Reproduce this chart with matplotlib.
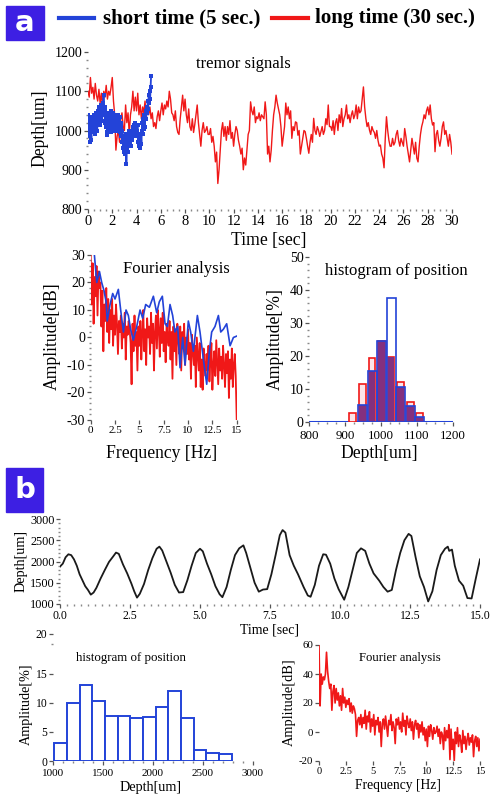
import numpy as np
import matplotlib.pyplot as plt
from matplotlib.ticker import AutoMinorLocator
from matplotlib.patches import Rectangle
from matplotlib.lines import Line2D

plt.rcParams['font.family'] = 'Liberation Serif'
plt.rcParams['axes.unicode_minus'] = False

# ---- panel a: tremor signals (depth in um, sampled every 0.1 s / 0.04 s) ----
long_depth = [
    1100, 1085, 1135, 1095, 1110, 1080, 1120, 1090, 1075, 1105,
    1070, 1095, 1060, 1100, 1085, 1115, 1080, 1100, 1090, 1110,
    1135, 1075, 1040, 950, 985, 1000, 970, 1030, 1045, 1010,
    1000, 1065, 1020, 1045, 990, 1040, 1060, 1100, 1050, 1085,
    1050, 1095, 1040, 1065, 1030, 1060, 1045, 1075, 1035, 1055,
    1040, 1060, 1030, 1045, 1010, 1020, 1005, 1035, 1050, 1025,
    1050, 1070, 1040, 1065, 1055, 1075, 1060, 1100, 1080, 1045,
    1040, 1025, 1050, 1010, 995, 990, 1030, 1060, 1090, 1050,
    1080, 1040, 1020, 1055, 1010, 1000, 1030, 995, 1015, 1040,
    1065, 1020, 990, 960, 1000, 1020, 995, 1000, 1010, 990,
    990, 1005, 970, 985, 960, 920, 945, 865, 900, 950,
    1000, 1020, 985, 1010, 975, 1010, 990, 1025, 980, 995,
    960, 990, 1010, 1000, 975, 960, 940, 955, 900, 930,
    912, 950, 990, 1000, 1073, 1050, 1040, 1060, 1020, 1035,
    1030, 1045, 1025, 1040, 1035, 1030, 1073, 1040, 940, 960,
    920, 950, 1000, 1040, 1060, 1090, 1070, 1055, 1040, 1010,
    960, 985, 1010, 1070, 1040, 1060, 1030, 1050, 980, 1010,
    1000, 1022, 1020, 988, 1000, 940, 960, 980, 1000, 997,
    980, 960, 942, 970, 990, 970, 1031, 1000, 990, 1010,
    1000, 985, 997, 1010, 990, 1000, 1030, 1015, 1065, 1010,
    1010, 1000, 1025, 990, 1020, 1030, 1000, 1040, 1020, 1056,
    1010, 1030, 1040, 1065, 1030, 1040, 1020, 1039, 1050, 1030,
    1040, 1065, 1030, 1060, 1045, 1050, 1080, 1111, 1060, 1031,
    1010, 1020, 1001, 990, 1010, 1000, 995, 980, 1000, 975,
    960, 963, 940, 930, 905, 980, 1035, 1000, 975, 960,
    960, 980, 963, 970, 990, 1000, 975, 960, 980, 970,
    960, 1005, 985, 960, 940, 920, 950, 980, 960, 940,
    970, 930, 920, 960, 990, 1010, 1022, 1040, 1030, 1050,
    1060, 1040, 1065, 1030, 1014, 1020, 946, 990, 1000, 975,
    960, 980, 1010, 1022, 990, 1000, 980, 960, 990, 970,
    940,
]
short_depth = [
    1010, 1040, 985, 1030, 970, 1020, 1000, 975, 1035, 1005,
    1030, 995, 1040, 1010, 1025, 990, 1045, 1015, 1030, 1000,
    1050, 1020, 1060, 1030, 1045, 1015, 1065, 1035, 1055, 1025,
    1070, 1040, 1090, 1045, 1060, 1020, 1050, 1010, 1040, 995,
    988, 1030, 1010, 1045, 1000, 1035, 1015, 1050, 995, 1040,
    1020, 1045, 1000, 1035, 1010, 1040, 1005, 1030, 1000, 1025,
    1010, 1040, 1000, 1030, 1015, 1035, 995, 1020, 985, 1010,
    970, 1000, 955, 985, 945, 975, 960, 940, 990, 915,
    960, 980, 945, 990, 965, 1000, 970, 985, 960, 995,
    975, 1000, 985, 1010, 990, 1015, 995, 1020, 1005, 1010,
    1000, 985, 1015, 970, 990, 960, 985, 955, 975, 990,
    965, 1000, 1020, 990, 1030, 1005, 1040, 1010, 1035, 1050,
    1030, 1060, 1045, 1075, 1055, 1090, 1070, 1100, 1080, 1110,
    1140,
]

# ---- panel a: Fourier analysis (dB) ----
long_fft = [
    30, 12, 27, 5, 22, 15, 26, 8, 24, 18,
    20, 4, 17, -5, 12, 6, 18, 2, 14, -2,
    10, 3, 14, -3, 8, 1, 12, 5, -6, 6,
    2, 8, -4, 5, 0, 9, -8, 4, 1, 6,
    3, -2, -17, 5, -5, 8, -3, 2, -12, 4,
    -3, 6, -8, 2, 10, -5, 3, -10, 7, 0,
    4, -6, 9, -2, 5, -12, 2, 8, -4, 10,
    3, -7, 7, -2, 9, -5, 2, -9, 5, 0,
    -3, 6, -8, 2, -15, 4, -5, 3, -10, 5,
    0, -6, 4, -12, 2, -4, 5, -10, 0, -6,
    3, -8, -2, -15, 1, -5, -10, -3, -18, 0,
    -6, -12, -2, -18, -8, -19, -4, -10, -14, -6,
    -12, -3, -16, -8, -2, -19, -10, -5, -14, -1,
    -9, -17, -4, -12, -7, -15, -3, -10, -18, -6,
    -13, -5, -22, -8, -15, -4, -18, -10, -6, -14,
    -30,
]
short_fft_freq = [0.38, 0.62, 0.9, 1.13, 1.37, 1.58, 1.7, 1.99, 2.26, 2.5,
                  2.84, 3.08, 3.36, 3.63, 3.87, 4.1, 4.38, 4.73, 5.07, 5.34,
                  5.65, 6.03, 6.44, 6.78, 7.05, 7.36, 7.64, 7.88, 8.15, 8.42,
                  8.66, 8.94, 9.18, 9.45, 9.69, 10.03, 10.27, 10.55, 10.96, 11.23,
                  11.58, 11.92, 12.19, 12.43, 12.77, 13.12, 13.36, 13.63, 13.97, 14.32,
                  14.66, 15.0]
short_fft = [30, 20, 24, 20, 17, 13, 6, 12, 16, 14,
             17.5, 10, 2, 10, 8, 3, -1, 4, 10, 7,
             12, 11, 15, 9, 13, 15, 5, 4, 12, 8,
             2, 4, -11, 0, -10, 6, 2, -5, 8, 2,
             -8, -17, -5, 2, 4, 8, 2, 3, 5, -3,
             0, 0.5]

# ---- panel a: histogram of position (%) ----
hist_a_centers = [921, 948, 975, 1001, 1028, 1054, 1081, 1107]
hist_a_long = [2.8, 11.6, 19.4, 24.6, 19.8, 12.0, 6.2, 2.6]
hist_a_short = [0.0, 5.1, 15.6, 24.6, 37.5, 10.6, 4.7, 1.6]

# ---- panel b: slow movement (depth in um) ----
b_time = [0.0, 0.1, 0.2, 0.3, 0.4, 0.5, 0.6, 0.7, 0.8, 0.9, 1.0, 1.1, 1.2, 1.3,
          1.45, 1.6, 1.75, 1.9, 2.0, 2.1, 2.25, 2.4, 2.55, 2.65, 2.75, 2.85, 3.0,
          3.15, 3.3, 3.45, 3.55, 3.65, 3.8, 3.95, 4.1, 4.25, 4.4, 4.55, 4.7, 4.85,
          5.0, 5.1, 5.25, 5.4, 5.55, 5.7, 5.8, 5.95, 6.1, 6.25, 6.4, 6.55, 6.65,
          6.8, 6.95, 7.1, 7.25, 7.4, 7.55, 7.7, 7.85, 7.95, 8.05, 8.2, 8.35, 8.5,
          8.7, 8.85, 8.95, 9.1, 9.25, 9.4, 9.5, 9.65, 9.8, 9.95, 10.15, 10.3, 10.45,
          10.6, 10.75, 10.9, 11.05, 11.2, 11.4, 11.55, 11.7, 11.85, 12.0, 12.15,
          12.3, 12.45, 12.55, 12.7, 12.85, 13.0, 13.15, 13.3, 13.45, 13.6, 13.75,
          13.85, 13.9, 14.0, 14.1, 14.25, 14.4, 14.55, 14.7, 14.85, 15.0]
b_depth = [1880, 1950, 2100, 2170, 2150, 2050, 1900, 1700, 1560, 1420, 1330, 1220, 1270, 1380,
           1600, 1800, 1990, 2120, 2210, 2180, 1930, 1720, 1480, 1300, 1150, 1240, 1470,
           1800, 2080, 2300, 2350, 2260, 2000, 1740, 1450, 1270, 1280, 1560, 1900, 2200,
           2300, 2240, 1950, 1700, 1420, 1230, 1160, 1400, 1800, 2150, 2310, 2380, 2200,
           1850, 1500, 1290, 1340, 1350, 1700, 2150, 2620, 2740, 2680, 2150, 1900, 1700,
           1400, 1200, 1170, 1450, 1900, 2170, 2160, 1950, 1600, 1350, 1100, 1400, 1800,
           2200, 2310, 2250, 1950, 1720, 1550, 1400, 1290, 1330, 1800, 2200,
           2500, 2650, 2600, 2100, 1650, 1400, 1060, 1300, 1800, 2150, 2300,
           2350, 2250, 2280, 1900, 1550, 1430, 1140, 1130, 1600, 2050]

hist_b_heights = [3.1, 10.0, 13.05, 10.3, 7.8, 7.8, 7.4, 7.6, 9.2, 12.07, 7.3, 1.95, 1.44, 1.26]
hist_b_start = 1013
hist_b_width = 126.7

b_fft = [
    60, 18, 40, 33, 38, 36, 40, 55, 42, 35,
    30, 33, 15, 28, 32, 20, 30, 22, 27, 18,
    25, 15, 30, 20, 24, 17, 22, 19, 23, 14,
    20, 13, 18, 16, 12, -3, 8, 10, 5, 12,
    3, 10, 6, 15, 2, 11, 7, 14, 0, 9,
    4, 12, -2, 8, 5, 10, 0, 7, -10, 6,
    9, 2, 11, 4, -3, 8, 5, 12, 1, 7,
    3, -8, 9, 5, 10, 2, 7, 0, 13, 4,
    8, -2, 11, 6, 3, 9, 1, 7, -5, 5,
    8, 2, 6, -4, 5, 0, 7, -2, 3, -6,
    2, -10, 4, -3, 5, 1, -5, 3, -1, 0,
    4, -3, 2, -8, 0, -2, -12, 3, -6, 1,
    -4, 5, -19, 2, -12, -5, -20, 0, -8, 3,
    -10, -2, -6, -14, 1, -8, -3, -12, -5, -1,
    -9, -4, -7, -2, -17, -6, -3, -10, -4, -13,
    -5,
]

W, H = 497, 801
RED = '#f01818'
BLUE = '#2343d8'
BOXC = '#3d1fe3'


def rect(x0, y0, x1, y1):
    return [x0 / W, 1 - y1 / H, (x1 - x0) / W, (y1 - y0) / H]


def ftext(x, y, s, size, **kw):
    fig.text(x / W, 1 - y / H, s, fontsize=size, ha='center', va='center', **kw)


def style(ax, xfs, yfs, xminor, yminor, xpad=1):
    for s in ax.spines.values():
        s.set_visible(False)
    ax.xaxis.set_minor_locator(AutoMinorLocator(xminor))
    ax.yaxis.set_minor_locator(AutoMinorLocator(yminor))
    ax.tick_params(which='major', length=3, width=0.9, color='#555', pad=1)
    ax.tick_params(which='minor', length=1.2, width=1.0, color='#888')
    ax.tick_params(axis='x', labelsize=xfs, pad=xpad)
    ax.tick_params(axis='y', labelsize=yfs)
    ax.patch.set_alpha(0)


fig = plt.figure(figsize=(W / 100, H / 100), dpi=100)

# panel labels and legend
for (x0, y0, x1, y1, letter) in [(6, 6, 44, 40, 'a'), (6, 468, 43, 512, 'b')]:
    fig.add_artist(Rectangle((x0 / W, 1 - y1 / H), (x1 - x0) / W, (y1 - y0) / H,
                             transform=fig.transFigure, color=BOXC))
    fig.text((x0 + x1) / 2 / W, 1 - (y0 + y1) / 2 / H, letter, color='white',
             fontsize=21, fontweight='bold', family='DejaVu Sans', ha='center', va='center')

fig.add_artist(Line2D([59 / W, 94 / W], [1 - 18 / H] * 2, color=BLUE, lw=3, transform=fig.transFigure))
fig.add_artist(Line2D([272 / W, 308 / W], [1 - 18 / H] * 2, color=RED, lw=3, transform=fig.transFigure))
fig.text(103 / W, 1 - 18 / H, 'short time (5 sec.)', fontsize=15, fontweight='bold', va='center')
fig.text(315 / W, 1 - 18 / H, 'long time (30 sec.)', fontsize=15, fontweight='bold', va='center')

# ---- a: tremor signals ----
ax1 = fig.add_axes(rect(88, 52, 452, 209))
t_long = np.linspace(0, 30, len(long_depth))
t_short = np.linspace(0, 5.2, len(short_depth))
ax1.plot(t_long, long_depth, color=RED, lw=1.0)
ax1.plot(t_short, short_depth, color=BLUE, lw=1.3, marker='s', ms=2.3, mew=0)
ax1.set_xlim(0, 30)
ax1.set_ylim(800, 1200)
ax1.set_xticks(range(0, 31, 2))
ax1.set_yticks([800, 900, 1000, 1100, 1200])
style(ax1, 10.5, 10, 4, 5)
ftext(243, 64, 'tremor signals', 12)
ftext(40, 128, 'Depth[um]', 12.7, rotation=90)
ftext(269, 240, 'Time [sec]', 12.7)

# ---- a: Fourier analysis ----
ax2 = fig.add_axes(rect(90.7, 255, 236.7, 420))
f_long = np.linspace(0, 15, len(long_fft))
ax2.plot(f_long, long_fft, color=RED, lw=1.3)
ax2.plot(short_fft_freq, short_fft, color=BLUE, lw=1.2)
ax2.set_xlim(0, 15)
ax2.set_ylim(-30, 30)
ax2.set_xticks([0, 2.5, 5, 7.5, 10, 12.5, 15], ['0', '2.5', '5', '7.5', '10', '12.5', '15'])
ax2.set_yticks(range(-30, 31, 10))
style(ax2, 8, 10, 1, 5)
ftext(176, 269, 'Fourier analysis', 12)
ftext(52, 336, 'Amplitude[dB]', 12.7, rotation=90)
ftext(162, 453, 'Frequency [Hz]', 12.7)

# ---- a: histogram of position ----
ax3 = fig.add_axes(rect(309, 257, 453, 422))
ax3.plot([800, 1200], [0, 0], color=BLUE, lw=2.2, zorder=1)
ax3.bar(hist_a_centers, hist_a_long, width=19, facecolor='#fce4e8', edgecolor=RED, lw=1.2, zorder=2)
overlap = np.minimum(hist_a_long, hist_a_short)
ax3.bar(hist_a_centers, overlap, width=19, facecolor='#83307f', edgecolor='none', zorder=3)
ax3.bar(hist_a_centers[1:], hist_a_short[1:], width=25, facecolor='none', edgecolor=BLUE, lw=1.2, zorder=4)
ax3.set_xlim(800, 1200)
ax3.set_ylim(0, 50)
ax3.set_xticks(range(800, 1201, 100))
ax3.set_yticks(range(0, 51, 10))
style(ax3, 9.3, 10, 4, 5, xpad=3)
ftext(396, 271, 'histogram of position', 12)
ftext(275, 339, 'Amplitude[%]', 12.7, rotation=90)
ftext(379, 453, 'Depth[um]', 12.7)

# ---- b: depth over time ----
ax4 = fig.add_axes(rect(60, 519, 480, 604))
ax4.plot(b_time, b_depth, color='#1a1a1a', lw=1.3)
ax4.set_xlim(0, 15)
ax4.set_ylim(1000, 3000)
ax4.set_xticks([0, 2.5, 5, 7.5, 10, 12.5, 15])
ax4.set_yticks(range(1000, 3001, 500))
style(ax4, 8.5, 8.8, 10, 5)
ftext(21, 561, 'Depth[um]', 10.2, rotation=90)
ftext(269, 630, 'Time [sec]', 10)

# ---- b: histogram of position ----
ax5 = fig.add_axes(rect(53, 634, 253, 761))
b_left = [hist_b_start + i * hist_b_width for i in range(len(hist_b_heights))]
ax5.bar(b_left, hist_b_heights, width=hist_b_width, align='edge',
        facecolor='white', edgecolor=BLUE, lw=1.4)
ax5.set_xlim(1000, 3000)
ax5.set_ylim(0, 21.8)
ax5.set_xticks(range(1000, 3001, 500))
ax5.set_yticks([0, 5, 10, 15, 21.8], ['0', '5', '10', '15', '20'])
style(ax5, 8, 8.4, 5, 1, xpad=3)
ftext(131, 658, 'histogram of position', 9.3)
ftext(26, 704, 'Amplitude[%]', 10.2, rotation=90)
ftext(151, 788, 'Depth[um]', 10.2)

# ---- b: Fourier analysis ----
ax6 = fig.add_axes(rect(319, 645, 480, 761))
f_b = np.linspace(0, 15, len(b_fft))
ax6.plot(f_b, b_fft, color=RED, lw=1.2)
ax6.set_xlim(0, 15)
ax6.set_ylim(-20, 60)
ax6.set_xticks([0, 2.5, 5, 7.5, 10, 12.5, 15], ['0', '2.5', '5', '7.5', '10', '12.5', '15'])
ax6.set_yticks(range(-20, 61, 20))
style(ax6, 7.5, 7.8, 1, 1)
ftext(400, 658, 'Fourier analysis', 9.2)
ftext(289, 702, 'Amplitude[dB]', 10.4, rotation=90)
ftext(398, 785, 'Frequency [Hz]', 9.8)

fig.savefig('out.png', dpi=100)
